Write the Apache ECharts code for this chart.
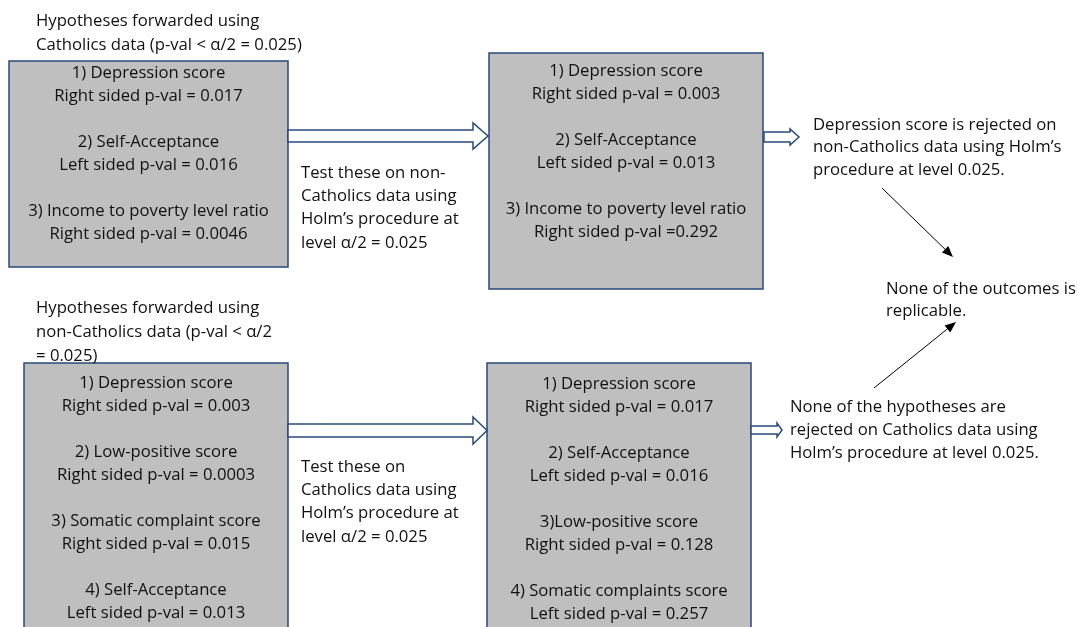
<!DOCTYPE html>
<html lang="en">
<head>
    <meta charset="UTF-8">
    <title>Replicability analysis flow</title>
    <script src="https://cdn.jsdelivr.net/npm/echarts@6/dist/echarts.min.js"></script>
    <style>
        html, body { margin: 0; padding: 0; background: #fff; }
        #chart { width: 1077px; height: 627px; }
    </style>
</head>
<body>
<div id="chart"></div>
<script type="text/javascript">
    // texts of the diagram
    var labelCatholics = ['Hypotheses forwarded using', 'Catholics data (p-val < \u03b1/2 = 0.025)'];
    var labelNonCatholics = ['Hypotheses forwarded using', 'non-Catholics data (p-val < \u03b1/2', '= 0.025)'];

    var boxCatholics = [
        ['1) Depression score', 'Right sided p-val = 0.017'],
        ['2) Self-Acceptance', 'Left sided p-val = 0.016'],
        ['3) Income to poverty level ratio', 'Right sided p-val = 0.0046']
    ];
    var boxTestNonCatholics = [
        ['1) Depression score', 'Right sided p-val = 0.003'],
        ['2) Self-Acceptance', 'Left sided p-val = 0.013'],
        ['3) Income to poverty level ratio', 'Right sided p-val =0.292']
    ];
    var boxNonCatholics = [
        ['1) Depression score', 'Right sided p-val = 0.003'],
        ['2) Low-positive score', 'Right sided p-val = 0.0003'],
        ['3) Somatic complaint score', 'Right sided p-val = 0.015'],
        ['4) Self-Acceptance', 'Left sided p-val = 0.013']
    ];
    var boxTestCatholics = [
        ['1) Depression score', 'Right sided p-val = 0.017'],
        ['2) Self-Acceptance', 'Left sided p-val = 0.016'],
        ['3)Low-positive score', 'Right sided p-val = 0.128'],
        ['4) Somatic complaints score', 'Left sided p-val = 0.257']
    ];

    var testTop = ['Test these on non-', 'Catholics data using', 'Holm\u2019s procedure at', 'level \u03b1/2 = 0.025'];
    var testBottom = ['Test these on', 'Catholics data using', 'Holm\u2019s procedure at', 'level \u03b1/2 = 0.025'];
    var resultTop = ['Depression score is rejected on', 'non-Catholics data using Holm\u2019s', 'procedure at level 0.025.'];
    var resultBottom = ['None of the hypotheses are', 'rejected on Catholics data using', 'Holm\u2019s procedure at level 0.025.'];
    var conclusion = ['None of the outcomes is', 'replicable.'];

    var FONT = '16.7px "Open Sans"';
    var NAVY = '#2a4a78';
    var BOX_FILL = '#bfbfbf';
    var chart;

    function boxText(items) {
        return items.map(function (a) { return a.join('\n'); }).join('\n\n');
    }

    function box(x, y, w, h, items, firstLine) {
        return [{
            type: 'rect',
            shape: {x: x, y: y, width: w, height: h},
            style: {fill: BOX_FILL, stroke: NAVY, lineWidth: 1.5}
        }, {
            type: 'text',
            style: {
                text: boxText(items), x: x + w / 2, y: firstLine - 11.5,
                font: FONT, fill: '#111', align: 'center', verticalAlign: 'top', lineHeight: 23
            }
        }];
    }

    function label(lines, x, firstLine, lh) {
        return {
            type: 'text',
            style: {
                text: lines.join('\n'), x: x, y: firstLine - lh / 2,
                font: FONT, fill: '#111', align: 'left', verticalAlign: 'top', lineHeight: lh
            }
        };
    }

    // block arrow pointing right
    function blockArrow(x0, xh, xt, cy, sh, hh) {
        return {
            type: 'polygon',
            shape: {points: [[x0, cy - sh], [xh, cy - sh], [xh, cy - hh], [xt, cy], [xh, cy + hh], [xh, cy + sh], [x0, cy + sh]]},
            style: {fill: '#fff', stroke: NAVY, lineWidth: 1.5}
        };
    }

    // thin line with a filled head
    function lineArrow(x1, y1, x2, y2) {
        var ang = Math.atan2(y2 - y1, x2 - x1);
        var len = 11, half = 4.5;
        var bx = x2 - len * Math.cos(ang), by = y2 - len * Math.sin(ang);
        var px = -Math.sin(ang) * half, py = Math.cos(ang) * half;
        return [{
            type: 'line',
            shape: {x1: x1, y1: y1, x2: bx, y2: by},
            style: {stroke: '#000', lineWidth: 1}
        }, {
            type: 'polygon',
            shape: {points: [[x2, y2], [bx + px, by + py], [bx - px, by - py]]},
            style: {fill: '#000'}
        }];
    }

    function init() {
        chart = echarts.init(document.getElementById('chart'));
        var els = [];
        els = els.concat(box(9, 61, 279, 206, boxCatholics, 73));
        els = els.concat(box(489, 53, 274, 236, boxTestNonCatholics, 71));
        els = els.concat(box(24, 363, 264, 290, boxNonCatholics, 383));
        els = els.concat(box(487, 363, 264, 290, boxTestCatholics, 384));

        els.push(blockArrow(288, 473, 488, 136, 6, 13));
        els.push(blockArrow(288, 473, 487, 430.5, 6.5, 13.5));
        els.push(blockArrow(764, 790, 799, 137, 5, 8));
        els.push(blockArrow(751, 777, 782, 430, 4, 7));

        els = els.concat(lineArrow(882, 188, 953, 257));
        els = els.concat(lineArrow(874, 388, 956, 322));

        els.push(label(labelCatholics, 36, 21, 24));
        els.push(label(labelNonCatholics, 36, 308, 24));
        els.push(label(testTop, 301, 173, 23.3));
        els.push(label(testBottom, 301, 467, 23.3));
        els.push(label(resultTop, 813, 125, 22.5));
        els.push(label(resultBottom, 790, 407, 23));
        els.push(label(conclusion, 886, 289, 22));

        chart.setOption({
            backgroundColor: '#fff',
            animation: false,
            graphic: {elements: els}
        });
    }

    init();
</script>
</body>
</html>
